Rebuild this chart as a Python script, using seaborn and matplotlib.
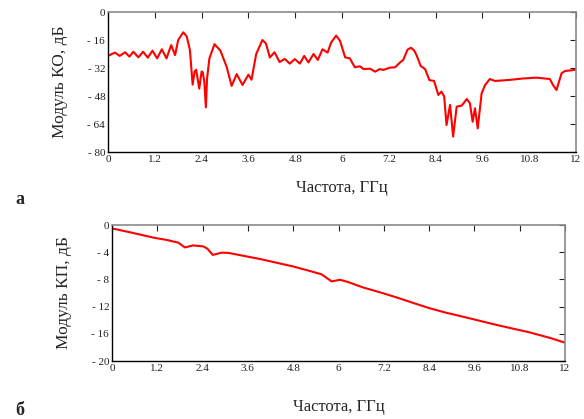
import matplotlib
matplotlib.use("Agg")
import matplotlib.pyplot as plt
import seaborn as sns
import pandas as pd

# ---- data: reflection coefficient (KO) ----
f_ko = [0.00, 0.10, 0.18, 0.30, 0.44, 0.55, 0.65, 0.78, 0.90, 1.02, 1.14, 1.26, 1.38, 1.50,
        1.62, 1.72, 1.80, 1.93, 2.02, 2.10, 2.17, 2.22, 2.26, 2.34, 2.40, 2.43, 2.47, 2.51,
        2.54, 2.60, 2.73, 2.88, 3.04, 3.17, 3.30, 3.45, 3.60, 3.68, 3.80, 3.96, 4.05, 4.15,
        4.27, 4.40, 4.53, 4.66, 4.79, 4.92, 5.03, 5.14, 5.27, 5.38, 5.50, 5.63, 5.72, 5.85,
        5.95, 6.08, 6.20, 6.33, 6.46, 6.55, 6.72, 6.85, 6.97, 7.06, 7.23, 7.36, 7.49, 7.57,
        7.68, 7.77, 7.85, 7.91, 8.02, 8.13, 8.24, 8.36, 8.47, 8.55, 8.62, 8.68, 8.77, 8.85,
        8.94, 9.07, 9.20, 9.28, 9.35, 9.41, 9.48, 9.58, 9.67, 9.79, 9.92, 10.30, 10.64,
        10.98, 11.33, 11.41, 11.50, 11.63, 11.72, 12.00]
ko = [-25.1, -24.0, -23.2, -25.1, -23.0, -25.5, -22.7, -25.9, -22.7, -26.1, -22.1, -26.5, -21.3, -26.5,
      -18.9, -24.6, -16.0, -11.6, -14.0, -21.7, -41.5, -34.0, -33.0, -43.8, -34.0, -34.5, -40.0, -54.5,
      -38.0, -26.5, -18.4, -22.0, -31.2, -42.2, -35.5, -41.7, -35.8, -38.7, -24.0, -16.0, -18.0, -26.0,
      -23.0, -28.6, -26.8, -29.5, -26.9, -29.5, -25.1, -28.8, -24.0, -27.4, -21.3, -23.2, -17.5, -13.5,
      -16.5, -25.9, -26.5, -31.6, -31.0, -32.6, -32.4, -34.1, -32.6, -33.1, -31.8, -31.6, -28.8, -27.4,
      -21.5, -20.4, -22.0, -24.6, -30.9, -32.6, -38.9, -39.4, -47.4, -45.5, -48.3, -64.6, -53.1, -71.2,
      -54.1, -53.5, -49.7, -52.2, -62.7, -55.0, -66.5, -46.5, -41.7, -38.3, -39.4, -38.8, -38.0,
      -37.5, -38.3, -41.7, -44.6, -35.0, -33.7, -33.0]

# ---- data: transmission coefficient (KP) ----
f_kp = [0.00, 0.50, 1.10, 1.45, 1.76, 1.93, 2.15, 2.42, 2.53, 2.67, 2.90, 3.08, 3.50, 3.92,
        4.40, 4.80, 5.20, 5.55, 5.82, 6.04, 6.26, 6.66, 7.10, 7.54, 8.00, 8.42, 8.85, 9.31,
        9.75, 10.19, 10.63, 11.07, 11.60, 12.00]
kp = [-0.5, -1.1, -1.86, -2.2, -2.6, -3.3, -3.0, -3.15, -3.5, -4.4, -4.07, -4.1, -4.55, -5.0,
      -5.6, -6.1, -6.7, -7.25, -8.3, -8.05, -8.4, -9.2, -9.9, -10.65, -11.5, -12.25, -12.9, -13.5,
      -14.1, -14.7, -15.25, -15.8, -16.6, -17.3]

x_ticks = [0, 1.2, 2.4, 3.6, 4.8, 6, 7.2, 8.4, 9.6, 10.8, 12]
x_tick_labels = ["0", "1.2", "2.4", "3.6", "4.8", "6", "7.2", "8.4", "9.6", "10.8", "12"]
ko_ticks = [0, -16, -32, -48, -64, -80]
ko_tick_labels = ["0", "- 16", "- 32", "- 48", "- 64", "- 80"]
kp_ticks = [0, -4, -8, -12, -16, -20]
kp_tick_labels = ["0", "- 4", "- 8", "- 12", "- 16", "- 20"]

xlabel = "Частота, ГГц"
ylabel_ko = "Модуль КО, дБ"
ylabel_kp = "Модуль КП, дБ"

sns.set_style("white")
plt.rcParams["font.family"] = ["Liberation Serif", "DejaVu Serif"]

fig = plt.figure(figsize=(5.84, 4.19), dpi=100)
ax1 = fig.add_axes([108/584, 1-152/419, 468/584, 140/419])
ax2 = fig.add_axes([112/584, 1-361/419, 453/584, 136/419])

df1 = pd.DataFrame({"f": f_ko, "v": ko})
df2 = pd.DataFrame({"f": f_kp, "v": kp})
sns.lineplot(data=df1, x="f", y="v", ax=ax1, color="#ff0000", linewidth=1.5, sort=False)
sns.lineplot(data=df2, x="f", y="v", ax=ax2, color="#ff0000", linewidth=1.5, sort=False)

for ax, yt, ytl, lo, yl, ylp, xlp in [(ax1, ko_ticks, ko_tick_labels, -80, ylabel_ko, 14, 12),
                                       (ax2, kp_ticks, kp_tick_labels, -20, ylabel_kp, 14, 19)]:
    ax.set_xlim(0, 12)
    ax.set_ylim(lo, 0)
    ax.set_xticks(x_ticks)
    ax.set_xticklabels(x_tick_labels)
    ax.set_yticks(yt)
    ax.set_yticklabels(ytl)
    ax.tick_params(direction="in", length=4, width=0.8, top=True, right=True,
                   labelsize=8, pad=2, colors="#222222")
    for s in ["left", "bottom"]:
        ax.spines[s].set_color("black")
        ax.spines[s].set_linewidth(1.0)
    for s in ["top", "right"]:
        ax.spines[s].set_color("#8a8a8a")
        ax.spines[s].set_linewidth(1.2)
    ax.set_xlabel(xlabel, fontsize=12, labelpad=xlp)
    ax.set_ylabel(yl, fontsize=12.5, labelpad=ylp)
    ax.grid(False)

fig.text(15/584, 1-200/419, "а", fontsize=13, fontweight="bold", va="center")
fig.text(15/584, 1-410/419, "б", fontsize=13, fontweight="bold", va="center")

fig.savefig("out.png", dpi=100, facecolor="white")
